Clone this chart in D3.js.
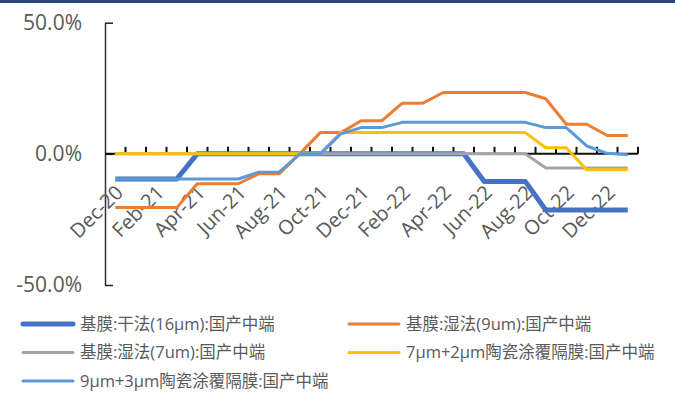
<!DOCTYPE html>
<html>
<head>
<meta charset="utf-8">
<script src="https://cdn.jsdelivr.net/npm/d3@7"></script>
<style>
    body { margin: 0; background: #fff; }
    #chart { width: 675px; height: 394px; }
    .axis text { font-family: "Open Sans", sans-serif; fill: #595959; }
</style>
</head>
<body>
<div id="chart"></div>
<script>
// months on the category axis
let months = ["Dec-20", "Jan-21", "Feb-21", "Mar-21", "Apr-21", "May-21", "Jun-21", "Jul-21",
    "Aug-21", "Sep-21", "Oct-21", "Nov-21", "Dec-21", "Jan-22", "Feb-22", "Mar-22", "Apr-22",
    "May-22", "Jun-22", "Jul-22", "Aug-22", "Sep-22", "Oct-22", "Nov-22", "Dec-22", "Jan-23"];

// series values, in percent
let dryFilm16 = [-9.6, -9.6, -9.6, -9.6, 0, 0, 0, 0, 0, 0, 0, 0, 0, 0, 0, 0, 0, 0,
    -10.5, -10.5, -10.5, -21.4, -21.4, -21.4, -21.4, -21.4];
let wetFilm9 = [-20.5, -20.5, -20.5, -20.5, -11.4, -11.4, -11.4, -7.6, -7.6, 0, 8.1, 8.1,
    12.6, 12.6, 19.3, 19.3, 23.4, 23.4, 23.4, 23.4, 23.4, 21.0, 11.3, 11.3, 7.0, 7.0];
let wetFilm7 = [0, 0, 0, 0, 0, 0, 0, 0, 0, 0, 0, 0, 0, 0, 0, 0, 0, 0, 0, 0, 0,
    -5.4, -5.4, -5.4, -5.4, -5.4];
let coated7p2 = [0, 0, 0, 0, 0, 0, 0, 0, 0, 0, 0, 8.1, 8.1, 8.1, 8.1, 8.1, 8.1, 8.1, 8.1,
    8.1, 8.1, 2.3, 2.3, -6.1, -6.1, -6.1];
let coated9p3 = [-9.6, -9.6, -9.6, -9.6, -9.6, -9.6, -9.6, -7.0, -7.0, 0, 0, 7.6, 10.0, 10.0,
    12.0, 12.0, 12.0, 12.0, 12.0, 12.0, 12.0, 10.0, 10.0, 3.0, 0.2, -0.3];

let seriesNames = ["基膜:干法(16μm):国产中端", "基膜:湿法(9um):国产中端", "基膜:湿法(7um):国产中端",
    "7μm+2μm陶瓷涂覆隔膜:国产中端", "9μm+3μm陶瓷涂覆隔膜:国产中端"];
let seriesColors = ["#4472C4", "#ED7D31", "#A5A5A5", "#FFC000", "#5B9BD5"];
let yTicks = [-50, 0, 50];

class LineVis {

    constructor(parentElement) {
        this.parentElement = parentElement;
        this.displayData = [dryFilm16, wetFilm9, wetFilm7, coated7p2, coated9p3].map(function (vals, i) {
            return {name: seriesNames[i], color: seriesColors[i], width: i === 0 ? 5 : 3, values: vals};
        });
        this.initVis();
    }

    initVis() {
        let vis = this;

        vis.width = 675;
        vis.height = 394;

        vis.svg = d3.select("#" + vis.parentElement).append("svg")
            .attr("width", vis.width)
            .attr("height", vis.height);

        // dark strip at the top
        vis.svg.append("rect")
            .attr("width", vis.width)
            .attr("height", 3)
            .attr("fill", "#2b4778");

        // scales
        vis.x = d3.scaleBand()
            .domain(months)
            .range([105, 638]);
        vis.y = d3.scaleLinear()
            .domain([-50, 50])
            .range([285, 22.7]);

        // y axis
        vis.svg.append("g")
            .attr("class", "axis y-axis")
            .attr("transform", "translate(105,0)")
            .call(d3.axisLeft(vis.y)
                .tickValues(yTicks)
                .tickSizeInner(-8)
                .tickSizeOuter(0)
                .tickPadding(23)
                .tickFormat(function (d) { return d.toFixed(1) + "%"; }))
            .call(function (g) {
                g.select(".domain").attr("stroke", "#333").attr("stroke-width", 1.5);
                g.selectAll(".tick line").attr("stroke", "#222").attr("stroke-width", 1.5);
                g.selectAll("text").attr("font-size", 21);
            });

        // x axis along zero, ticks at category boundaries pointing up
        let bounds = months.map(function (m) { return vis.x(m) + vis.x.bandwidth(); });
        let xAxisG = vis.svg.append("g")
            .attr("class", "axis x-axis")
            .attr("transform", "translate(0," + vis.y(0) + ")");
        xAxisG.append("line")
            .attr("x1", 105).attr("x2", 638)
            .attr("stroke", "#111").attr("stroke-width", 2);
        xAxisG.selectAll(".tk")
            .data(bounds)
            .enter().append("line")
            .attr("class", "tk")
            .attr("x1", function (d) { return d; })
            .attr("x2", function (d) { return d; })
            .attr("y1", 0).attr("y2", -7)
            .attr("stroke", "#111").attr("stroke-width", 2);

        // rotated month labels every second month
        xAxisG.selectAll(".lbl")
            .data(months.filter(function (m, i) { return i % 2 === 0; }))
            .enter().append("text")
            .attr("class", "lbl")
            .attr("text-anchor", "end")
            .attr("font-size", 20)
            .attr("transform", function (d) {
                return "translate(" + (vis.x(d) + vis.x.bandwidth() / 2 + 9) + ",40) rotate(-45)";
            })
            .text(function (d) { return d; });

        // lines
        vis.line = d3.line()
            .x(function (d, i) { return vis.x(months[i]) + vis.x.bandwidth() / 2; })
            .y(function (d) { return vis.y(d); });

        vis.svg.selectAll(".series")
            .data(vis.displayData)
            .enter().append("path")
            .attr("class", "series")
            .attr("fill", "none")
            .attr("stroke", function (d) { return d.color; })
            .attr("stroke-width", function (d) { return d.width; })
            .attr("stroke-linejoin", "round")
            .attr("d", function (d) { return vis.line(d.values); });

        // legend, two columns
        let legend = vis.svg.append("g").attr("class", "legend");
        let items = legend.selectAll(".item")
            .data(vis.displayData)
            .enter().append("g")
            .attr("class", "item")
            .attr("transform", function (d, i) {
                return "translate(" + (i % 2 === 0 ? 23 : 349) + "," + (324 + Math.floor(i / 2) * 28.5) + ")";
            });
        items.append("line")
            .attr("x1", 0).attr("x2", 50)
            .attr("stroke", function (d) { return d.color; })
            .attr("stroke-width", function (d) { return d.width; })
            .attr("stroke-linecap", "round");
        items.append("text")
            .attr("x", 57)
            .attr("dy", "0.35em")
            .attr("font-family", "'Open Sans', 'Noto Sans CJK SC', sans-serif")
            .attr("font-size", 16.5)
            .attr("fill", "#595959")
            .text(function (d) { return d.name; });
    }
}

let myLineVis = new LineVis("chart");
</script>
</body>
</html>
